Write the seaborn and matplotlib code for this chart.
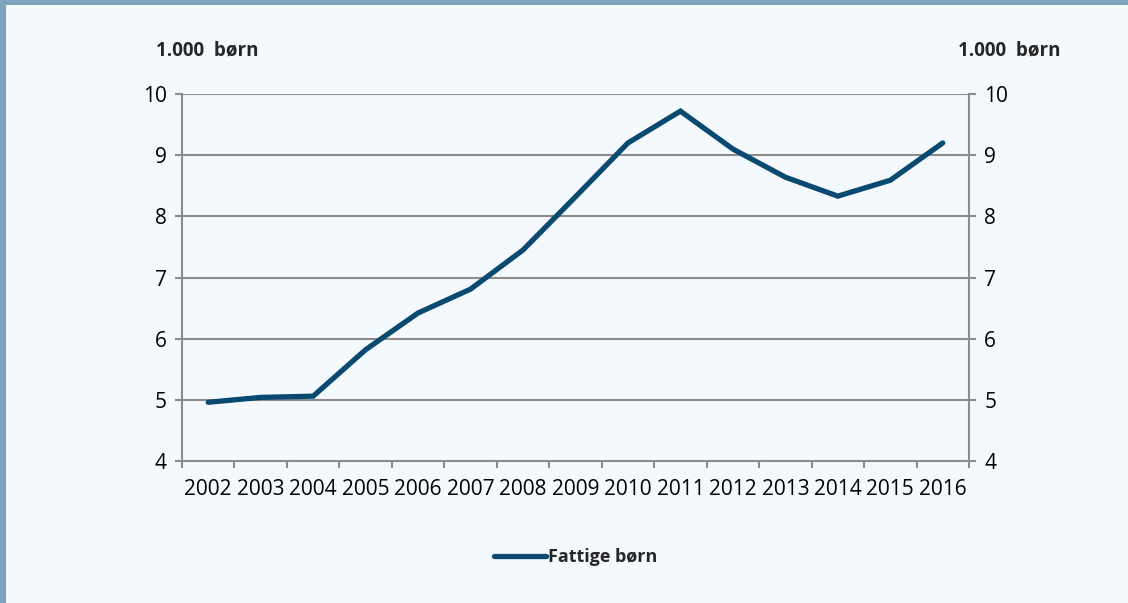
import matplotlib
matplotlib.use('Agg')
import matplotlib.pyplot as plt
import seaborn as sns
import pandas as pd
from matplotlib.patches import Rectangle

# Data (1.000 børn)
years = ['2002', '2003', '2004', '2005', '2006', '2007', '2008', '2009',
         '2010', '2011', '2012', '2013', '2014', '2015', '2016']
fattige = [4.96, 5.04, 5.06, 5.82, 6.42, 6.81, 7.45, 8.32,
           9.20, 9.72, 9.10, 8.64, 8.33, 8.59, 9.20]

BG = '#F4F9FE'
LINE = '#0B4A70'
GRID = '#8C8C8C'
BORDER = '#7FA3BA'


def main():
    sns.set_theme(style='white')
    plt.rcParams['font.family'] = ['Open Sans', 'DejaVu Sans']

    df = pd.DataFrame({'pos': range(len(years)), 'year': years, 'value': fattige})

    fig = plt.figure(figsize=(11.28, 6.03), dpi=100)
    fig.patch.set_facecolor(BG)
    ax = fig.add_axes([182 / 1128, 1 - 461 / 603, (969 - 182) / 1128, (461 - 94) / 603])
    ax.set_facecolor(BG)

    sns.lineplot(data=df, x='pos', y='value', ax=ax, color=LINE, linewidth=3.8,
                 solid_capstyle='round', solid_joinstyle='miter', label='Fattige børn')

    ax.set_xlim(-0.5, len(years) - 0.5)
    ax.set_ylim(4, 10)
    ax.set_yticks(range(4, 11))
    ax.set_xticks(range(len(years)))
    ax.set_xticklabels(years)
    ax.set_xticks([i - 0.5 for i in range(len(years) + 1)], minor=True)
    ax.set_xlabel('')
    ax.set_ylabel('')

    for y in range(5, 11):
        ax.axhline(y, color=GRID, lw=1.5, zorder=0)

    for side in ['left', 'right', 'bottom']:
        ax.spines[side].set_visible(True)
        ax.spines[side].set_color(GRID)
        ax.spines[side].set_linewidth(1.5)
    ax.spines['top'].set_visible(False)

    ax.tick_params(axis='x', which='major', length=0, pad=13, labelsize=15, colors='black')
    ax.tick_params(axis='x', which='minor', length=5, width=1.5, color=GRID, direction='out', bottom=True)
    ax.tick_params(axis='y', length=5, width=1.5, color=GRID, direction='out',
                   left=True, right=True, labelleft=True, labelright=True,
                   labelsize=15, labelcolor='black', pad=6)

    fig.text(207 / 1128, 1 - 50 / 603, '1.000  børn', ha='center', va='center',
             fontsize=13.5, fontweight='bold')
    fig.text(1009 / 1128, 1 - 50 / 603, '1.000  børn', ha='center', va='center',
             fontsize=13.5, fontweight='bold')

    ax.legend(loc='center', bbox_to_anchor=(0.5, (461 - 557) / (461 - 94)),
              frameon=False, handlelength=2.9, handletextpad=0.1,
              prop={'weight': 'bold', 'size': 13})

    # frame border (top and left)
    fig.add_artist(Rectangle((0, 1 - 5 / 603), 1, 5 / 603, transform=fig.transFigure,
                             facecolor=BORDER, edgecolor='none'))
    fig.add_artist(Rectangle((0, 0), 6 / 1128, 1, transform=fig.transFigure,
                             facecolor=BORDER, edgecolor='none'))

    fig.savefig('out.png', dpi=100, facecolor=BG)


if __name__ == "__main__":
    main()
